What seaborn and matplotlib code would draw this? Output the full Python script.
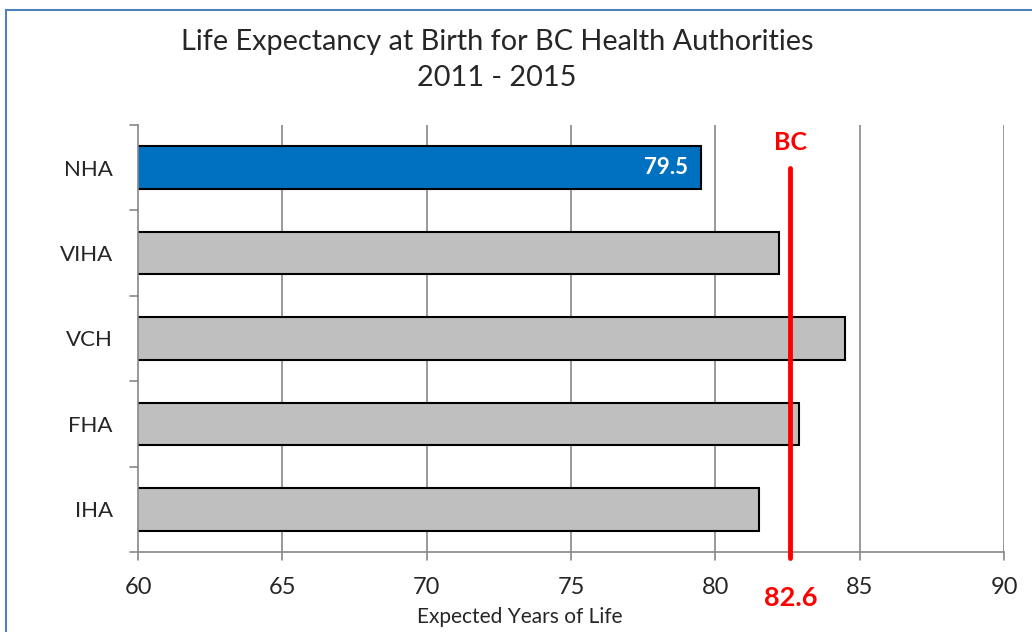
import matplotlib

matplotlib.use('Agg')

import matplotlib.pyplot as plt
import matplotlib.patches as mpatches
import seaborn as sns
import pandas as pd

# Datos
regions = ['NHA', 'VIHA', 'VCH', 'FHA', 'IHA']
life_exp = [79.5, 82.2, 84.5, 82.9, 81.5]
bar_colors = ['#0070C0', '#BFBFBF', '#BFBFBF', '#BFBFBF', '#BFBFBF']
bc_value = 82.6
x_ticks = [60, 65, 70, 75, 80, 85, 90]

sns.set_style('white')
plt.rcParams['font.family'] = ['Lato', 'DejaVu Sans']

df = pd.DataFrame({'region': regions, 'value': life_exp})

fig = plt.figure(figsize=(10.32, 6.32), dpi=100)
ax = fig.add_axes([138 / 1032, 1 - 552 / 632, 866 / 1032, 427 / 632])

sns.barplot(
    data=df,
    x='value',
    y='region',
    hue='region',
    palette=bar_colors,
    saturation=1,
    orient='h',
    width=0.5,
    edgecolor='black',
    linewidth=1.5,
    legend=False,
    ax=ax,
)

# las barras parten de 60, no de 0
ax.set_xlim(60, 90)
ax.set_xticks(x_ticks)
ax.set_xticklabels([str(t) for t in x_ticks], fontsize=17)
ax.set_ylim(4.5, -0.5)
ax.set_yticks(range(len(regions)))
ax.set_yticklabels(regions, fontsize=16)
ax.tick_params(axis='y', length=0, pad=18)
ax.tick_params(axis='x', length=0, pad=18)

# marcas de separacion en el eje y
for b in [i - 0.5 for i in range(len(regions) + 1)]:
    ax.plot([-0.009, 0], [b, b], transform=ax.get_yaxis_transform(),
            color='#888888', lw=1.2, clip_on=False)
for t in x_ticks:
    ax.plot([t, t], [0, -0.018], transform=ax.get_xaxis_transform(),
            color='#888888', lw=1.2, clip_on=False)

ax.grid(False)
for t in x_ticks[1:]:
    ax.axvline(t, color='#888888', lw=1.2, zorder=0)

for side in ['top', 'right']:
    ax.spines[side].set_visible(False)
for side in ['left', 'bottom']:
    ax.spines[side].set_color('#888888')
    ax.spines[side].set_linewidth(1.2)

ax.set_xlabel('')
ax.set_ylabel('')
fig.text(520 / 1032, 1 - 617 / 632, 'Expected Years of Life',
         fontsize=15, ha='center', va='center')

# linea de referencia de BC
ax.axvline(bc_value, ymin=-0.015, ymax=0.9, color='#FF0000', lw=3.5,
           clip_on=False, zorder=5)
ax.text(bc_value, (552 - 143) / 427, 'BC', transform=ax.get_xaxis_transform(),
        color='#FF0000', fontsize=18, fontweight='bold', ha='center', va='center')
ax.text(bc_value, -0.108, f'{bc_value}', transform=ax.get_xaxis_transform(),
        color='#FF0000', fontsize=19.5, fontweight='bold', ha='center', va='center')

# etiqueta de NHA
ax.text(life_exp[0] - 0.45, 0, f'{life_exp[0]}', color='white',
        fontsize=16, fontweight='bold', ha='right', va='center')

fig.text(497 / 1032, 1 - 42 / 632,
         'Life Expectancy at Birth for BC Health Authorities',
         fontsize=20.8, ha='center', va='center')
fig.text(497 / 1032, 1 - 78 / 632, '2011 - 2015',
         fontsize=20.8, ha='center', va='center')

# borde del grafico
fig.patches.append(mpatches.Rectangle(
    (6 / 1032, -0.05), 1.1, 1 - 10 / 632 + 0.05, transform=fig.transFigure,
    fill=False, edgecolor='#4F81BD', lw=1.5))

plt.savefig('out.png', dpi=100)
plt.close()
